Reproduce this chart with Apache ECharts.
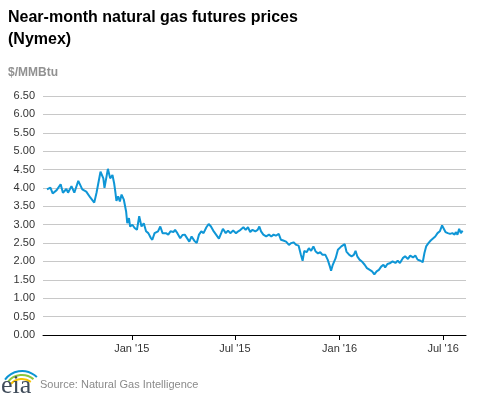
<!DOCTYPE html>
<html>
<head>
<meta charset="utf-8">
<script src="https://cdn.jsdelivr.net/npm/echarts@6/dist/echarts.min.js"></script>
<style>
html,body{margin:0;padding:0;background:#fff;}
#chart{width:477px;height:393px;}
</style>
</head>
<body>
<div id="chart"></div>
<script>
var titleLines = ['Near-month natural gas futures prices', '(Nymex)'];
var unitLabel = '$/MMBtu';
var sourceText = 'Source: Natural Gas Intelligence';

var tickDates = ['2015-01-01', '2015-07-01', '2016-01-01', '2016-07-01'];
var tickLabels = ["Jan '15", "Jul '15", "Jan '16", "Jul '16"];
var axisStart = '2014-07-29';
var axisEnd = '2016-08-10';

var dates = [
'2014-08-05','2014-08-11','2014-08-15','2014-08-22','2014-08-29','2014-09-02','2014-09-08','2014-09-11','2014-09-17','2014-09-22',
'2014-09-29','2014-10-06','2014-10-13','2014-10-20','2014-10-27','2014-10-31','2014-11-07','2014-11-12','2014-11-14','2014-11-20',
'2014-11-24','2014-11-28','2014-12-01','2014-12-03','2014-12-05','2014-12-08','2014-12-11','2014-12-14','2014-12-18','2014-12-22',
'2014-12-24','2014-12-27','2014-12-29','2015-01-02','2015-01-06','2015-01-10','2015-01-14','2015-01-18','2015-01-22','2015-01-26',
'2015-01-30','2015-02-03','2015-02-06','2015-02-10','2015-02-16','2015-02-20','2015-02-24','2015-03-02','2015-03-06','2015-03-10',
'2015-03-15','2015-03-18','2015-03-22','2015-03-27','2015-03-31','2015-04-04','2015-04-06','2015-04-12','2015-04-16','2015-04-21',
'2015-04-25','2015-04-29','2015-05-03','2015-05-07','2015-05-12','2015-05-16','2015-05-20','2015-05-24','2015-05-29','2015-06-03',
'2015-06-07','2015-06-10','2015-06-15','2015-06-19','2015-06-23','2015-06-28','2015-07-03','2015-07-07','2015-07-11','2015-07-16',
'2015-07-20','2015-07-24','2015-07-28','2015-08-01','2015-08-06','2015-08-10','2015-08-13','2015-08-16','2015-08-20','2015-08-25',
'2015-08-30','2015-09-03','2015-09-07','2015-09-11','2015-09-16','2015-09-20','2015-09-24','2015-09-29','2015-10-04','2015-10-08',
'2015-10-12','2015-10-17','2015-10-21','2015-10-25','2015-10-28','2015-10-31','2015-11-04','2015-11-08','2015-11-12','2015-11-16',
'2015-11-20','2015-11-24','2015-11-28','2015-12-02','2015-12-07','2015-12-11','2015-12-15','2015-12-17','2015-12-20','2015-12-25',
'2015-12-29','2016-01-01','2016-01-04','2016-01-07','2016-01-10','2016-01-13','2016-01-18','2016-01-22','2016-01-26','2016-01-29',
'2016-02-01','2016-02-05','2016-02-09','2016-02-14','2016-02-18','2016-02-23','2016-02-27','2016-03-02','2016-03-06','2016-03-10',
'2016-03-14','2016-03-18','2016-03-21','2016-03-25','2016-03-29','2016-04-03','2016-04-08','2016-04-12','2016-04-16','2016-04-21',
'2016-04-25','2016-04-30','2016-05-04','2016-05-09','2016-05-13','2016-05-17','2016-05-22','2016-05-26','2016-05-29','2016-06-01',
'2016-06-05','2016-06-09','2016-06-12','2016-06-17','2016-06-21','2016-06-25','2016-06-29','2016-07-01','2016-07-05','2016-07-09',
'2016-07-13','2016-07-17','2016-07-21','2016-07-23','2016-07-26','2016-07-29','2016-08-01','2016-08-04'
];
var prices = [
3.96,4.01,3.85,3.94,4.10,3.87,3.97,3.87,4.05,3.87,
4.19,3.96,3.90,3.74,3.60,3.87,4.44,4.26,4.00,4.52,
4.26,4.35,4.12,3.90,3.65,3.77,3.63,3.82,3.68,3.36,
3.04,3.18,2.95,3.00,2.91,2.86,3.23,2.95,3.04,2.82,
2.77,2.65,2.59,2.77,2.82,2.95,2.77,2.77,2.73,2.82,
2.80,2.86,2.77,2.63,2.72,2.73,2.68,2.54,2.68,2.56,
2.50,2.73,2.82,2.77,2.93,3.02,2.95,2.84,2.73,2.62,
2.77,2.89,2.77,2.84,2.77,2.84,2.77,2.82,2.86,2.93,
2.86,2.93,2.80,2.86,2.82,2.86,2.95,2.82,2.73,2.68,
2.73,2.68,2.73,2.70,2.75,2.59,2.57,2.54,2.45,2.50,
2.52,2.45,2.43,2.18,2.02,2.29,2.25,2.36,2.29,2.41,
2.27,2.22,2.25,2.18,2.18,2.05,1.86,1.75,1.91,2.09,
2.32,2.27,2.41,2.36,2.47,2.27,2.18,2.14,2.18,2.29,
2.14,2.05,2.00,1.91,1.82,1.77,1.73,1.65,1.73,1.77,
1.86,1.91,1.84,1.93,1.95,2.00,1.96,2.02,1.96,2.09,
2.14,2.07,2.16,2.11,2.16,2.05,2.02,1.98,2.23,2.41,
2.50,2.57,2.62,2.68,2.77,2.82,2.98,2.95,2.80,2.77,
2.75,2.77,2.73,2.80,2.73,2.89,2.77,2.84
];

function ts(s) {
  var p = s.split('-');
  return Date.UTC(+p[0], +p[1] - 1, +p[2]);
}
var tickTs = tickDates.map(ts);
var seriesData = dates.map(function (d, i) { return [ts(d), prices[i]]; });

function tickLabelFor(v) {
  var best = 0, bd = Infinity;
  for (var i = 0; i < tickTs.length; i++) {
    var dd = Math.abs(tickTs[i] - v);
    if (dd < bd) { bd = dd; best = i; }
  }
  return tickLabels[best];
}

var chart = echarts.init(document.getElementById('chart'), null, {renderer: 'canvas'});
var font = 'Arial, "Liberation Sans", sans-serif';
chart.setOption({
  animation: false,
  backgroundColor: '#ffffff',
  textStyle: {fontFamily: font},
  grid: {left: 43, right: 11, top: 96, bottom: 58, containLabel: false},
  xAxis: {
    type: 'value',
    min: ts(axisStart),
    max: ts(axisEnd),
    axisLine: {show: true, lineStyle: {color: '#000', width: 1}},
    axisTick: {show: true, length: 5, lineStyle: {color: '#000'}, customValues: tickTs},
    axisLabel: {
      customValues: tickTs,
      color: '#333', fontSize: 11, fontFamily: font, margin: 8,
      formatter: function (v) { return tickLabelFor(v); }
    },
    splitLine: {show: false}
  },
  yAxis: {
    type: 'value',
    min: 0, max: 6.5, interval: 0.5,
    axisLine: {show: false},
    axisTick: {show: false},
    axisLabel: {color: '#333', fontSize: 11, fontFamily: font, margin: 8,
      formatter: function (v) { return v.toFixed(2); }},
    splitLine: {show: true, lineStyle: {color: '#c8c8c8', width: 1}}
  },
  series: [{
    type: 'line',
    data: seriesData,
    showSymbol: false,
    symbol: 'none',
    lineStyle: {color: '#0f96d6', width: 2},
    z: 5
  }],
  graphic: [
    {type: 'text', left: 8, top: 7, style: {text: titleLines.join('\n'), font: 'bold 16px ' + font, fill: '#000', lineHeight: 21.5}},
    {type: 'text', left: 8, top: 67, style: {text: unitLabel, font: 'bold 12px ' + font, fill: '#919191'}},
    {type: 'text', left: 40, top: 379, style: {text: sourceText, font: '11px ' + font, fill: '#8a8a8a'}},
    {type: 'arc', shape: {cx: 22, cy: 392, r: 21, startAngle: Math.PI * 1.2, endAngle: Math.PI * 1.75}, style: {stroke: '#0b95d4', lineWidth: 2, fill: null}},
    {type: 'arc', shape: {cx: 22, cy: 393, r: 18, startAngle: Math.PI * 1.22, endAngle: Math.PI * 1.72}, style: {stroke: '#8cc63f', lineWidth: 2, fill: null}},
    {type: 'arc', shape: {cx: 22, cy: 394, r: 15, startAngle: Math.PI * 1.24, endAngle: Math.PI * 1.7}, style: {stroke: '#f7c200', lineWidth: 2, fill: null}},
    {type: 'text', left: 1, top: 373, style: {text: 'eia', font: '26px "Liberation Serif", "DejaVu Serif", serif', fill: '#404c5a'}}
  ]
});
</script>
</body>
</html>
